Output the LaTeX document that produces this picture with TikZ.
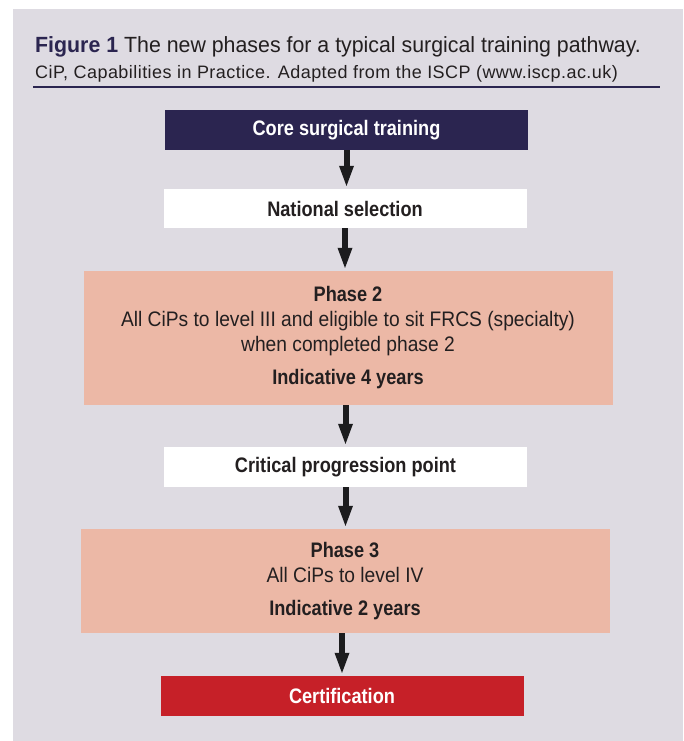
\documentclass[tikz,border=0pt]{standalone}
\usepackage{fontspec}
\setmainfont{Liberation Sans}[FakeStretch=0.915, BoldFeatures={FakeStretch=0.865}]
\newfontfamily\titlefont{Liberation Sans}[FakeStretch=0.97]
\newfontfamily\notefont{Liberation Sans}[LetterSpace=2.5]
\usetikzlibrary{arrows.meta, positioning}
\definecolor{panelgray}{RGB}{222, 219, 226}
\definecolor{corenavy}{RGB}{43, 37, 80}
\definecolor{phasesalmon}{RGB}{236, 184, 166}
\definecolor{certred}{RGB}{198, 32, 40}
\definecolor{textdark}{RGB}{35, 31, 32}
\definecolor{arrowdark}{RGB}{28, 28, 30}
\tikzset{
    stepbox/.style={rectangle, minimum width=363pt, minimum height=40pt, inner sep=0pt, align=center, font=\bfseries\fontsize{21}{25}\selectfont},
    corebox/.style={stepbox, fill=corenavy, text=white},
    gatebox/.style={stepbox, fill=white, text=textdark},
    phasebox/.style={stepbox, fill=phasesalmon, minimum width=529pt, text=textdark, font=\fontsize{21}{25}\selectfont},
    certbox/.style={stepbox, fill=certred, text=white},
    flowarrow/.style={-{Triangle[length=22pt, width=13pt]}, line width=6pt, draw=arrowdark, shorten >=1pt},
    captext/.style={anchor=base west, inner sep=0pt, text=textdark},
}

\begin{document}
\begin{tikzpicture}[x=1pt, y=-1pt]
    % Panel
    \useasboundingbox (0, 0) rectangle (683, 741);
    \fill[panelgray] (13, 9) rectangle (683, 741);

    % Caption
    \node[captext, font=\titlefont\fontsize{22}{26}\selectfont] (title) at (35, 53)
        {\textcolor{corenavy}{\textbf{Figure 1}} The new phases for a typical surgical training pathway.};
    \node[captext, font=\notefont\fontsize{18}{20}\selectfont] (subtitle) at (35, 79)
        {CiP, Capabilities in Practice. Adapted from the ISCP (www.iscp.ac.uk)};
    \coordinate (ruleleft) at (33, 87);
    \coordinate (ruleright) at (660, 87);
    \draw[corenavy, line width=2.5pt] (ruleleft) -- (ruleright);

    % Pathway boxes
    \node[corebox] (core) at (346.5, 130) {Core surgical training};
    \node[gatebox, minimum height=39pt] (national) at (345, 208.5) {National selection};
    \node[phasebox, minimum height=134pt] (phase2) at (348, 338)
        {\textbf{Phase 2}\\
         All CiPs to level III and eligible to sit FRCS (specialty)\\
         when completed phase 2\\[8pt]
         \textbf{Indicative 4 years}};
    \node[gatebox] (critical) at (345.5, 467) {Critical progression point};
    \node[phasebox, minimum height=104pt] (phase3) at (345, 581)
        {\textbf{Phase 3}\\
         All CiPs to level IV\\[8pt]
         \textbf{Indicative 2 years}};
    \node[certbox] (cert) at (342, 696) {Certification};

    % Arrows
    \draw[flowarrow] (core.south) -- (core.south |- national.north);
    \draw[flowarrow] (national.south) -- (national.south |- phase2.north);
    \draw[flowarrow] (phase2.south -| critical.south) -- (critical.north);
    \draw[flowarrow] (critical.south) -- (critical.south |- phase3.north);
    \draw[flowarrow] (phase3.south -| cert.north) -- (cert.north);
\end{tikzpicture}
\end{document}
